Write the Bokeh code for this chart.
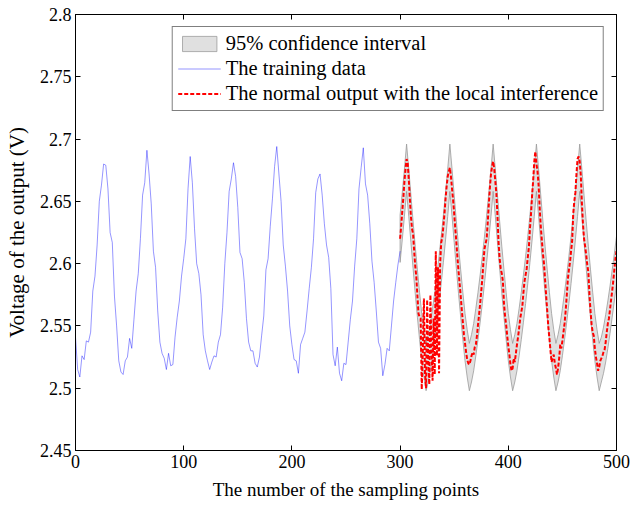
from bokeh.plotting import figure
from bokeh.models import LinearAxis, Range1d, FixedTicker, Legend, LegendItem, CustomJSTickFormatter
from bokeh.embed import file_html
from bokeh.resources import INLINE

# ---- data ----
train_x = list(range(0, 301, 2))
train_y = [
    2.541, 2.515, 2.509, 2.526, 2.523, 2.538, 2.537, 2.545, 2.578, 2.590,
    2.615, 2.650, 2.663, 2.680, 2.679, 2.660, 2.625, 2.617, 2.574, 2.550,
    2.522, 2.513, 2.511, 2.522, 2.525, 2.540, 2.532, 2.555, 2.578, 2.592,
    2.620, 2.655, 2.665, 2.691, 2.672, 2.648, 2.610, 2.597, 2.562, 2.537,
    2.528, 2.524, 2.515, 2.528, 2.518, 2.519, 2.541, 2.557, 2.570, 2.590,
    2.604, 2.620, 2.660, 2.686, 2.665, 2.628, 2.600, 2.592, 2.575, 2.543,
    2.530, 2.522, 2.515, 2.521, 2.526, 2.525, 2.537, 2.543, 2.565, 2.600,
    2.625, 2.658, 2.668, 2.681, 2.670, 2.645, 2.609, 2.604, 2.585, 2.556,
    2.537, 2.530, 2.530, 2.520, 2.517, 2.525, 2.542, 2.558, 2.595, 2.604,
    2.630, 2.652, 2.678, 2.694, 2.672, 2.650, 2.615, 2.598, 2.578, 2.550,
    2.535, 2.523, 2.522, 2.512, 2.535, 2.540, 2.545, 2.562, 2.580, 2.597,
    2.620, 2.657, 2.668, 2.672, 2.655, 2.632, 2.615, 2.605, 2.580, 2.527,
    2.518, 2.533, 2.512, 2.506, 2.520, 2.519, 2.537, 2.555, 2.570, 2.598,
    2.620, 2.660, 2.677, 2.693, 2.664, 2.655, 2.632, 2.602, 2.585, 2.562,
    2.537, 2.532, 2.510, 2.519, 2.532, 2.530, 2.550, 2.570, 2.585, 2.599,
    2.610,
]

test_x = list(range(300, 501))
test_y = [
    2.620, 2.630, 2.642, 2.653, 2.666, 2.676, 2.684, 2.681, 2.668, 2.652,
    2.638, 2.628, 2.624, 2.610, 2.598, 2.589, 2.574, 2.560, 2.557, 2.556,
    2.499, 2.530, 2.572, 2.512, 2.500, 2.571, 2.522, 2.503, 2.575, 2.532,
    2.506, 2.556, 2.511, 2.610, 2.526, 2.597, 2.512, 2.600, 2.617, 2.621,
    2.630, 2.640, 2.652, 2.662, 2.670, 2.674, 2.677, 2.670, 2.660, 2.651,
    2.640, 2.628, 2.617, 2.605, 2.594, 2.584, 2.574, 2.563, 2.553, 2.543,
    2.536, 2.529, 2.523, 2.520, 2.519, 2.522, 2.526, 2.529, 2.527, 2.533,
    2.535, 2.542, 2.551, 2.559, 2.568, 2.578, 2.588, 2.601, 2.612, 2.616,
    2.620, 2.633, 2.648, 2.661, 2.672, 2.678, 2.682, 2.676, 2.666, 2.656,
    2.638, 2.617, 2.604, 2.596, 2.592, 2.586, 2.568, 2.558, 2.551, 2.542,
    2.534, 2.527, 2.519, 2.514, 2.516, 2.524, 2.521, 2.528, 2.535, 2.541,
    2.548, 2.556, 2.561, 2.566, 2.577, 2.586, 2.591, 2.596, 2.605, 2.613,
    2.628, 2.640, 2.655, 2.667, 2.682, 2.690, 2.680, 2.674, 2.663, 2.645,
    2.630, 2.619, 2.608, 2.600, 2.587, 2.574, 2.562, 2.549, 2.540, 2.530,
    2.521, 2.524, 2.527, 2.520, 2.516, 2.511, 2.516, 2.524, 2.535, 2.532,
    2.538, 2.545, 2.552, 2.562, 2.574, 2.587, 2.595, 2.601, 2.610, 2.618,
    2.640, 2.650, 2.657, 2.672, 2.684, 2.686, 2.682, 2.671, 2.649, 2.632,
    2.620, 2.614, 2.607, 2.599, 2.593, 2.575, 2.562, 2.551, 2.545, 2.542,
    2.532, 2.525, 2.520, 2.514, 2.517, 2.522, 2.524, 2.526, 2.529, 2.531,
    2.537, 2.545, 2.552, 2.556, 2.563, 2.571, 2.578, 2.586, 2.595, 2.604,
    2.610,
]

band_x = list(range(300, 501, 2))
band_upper = [
    2.639, 2.657, 2.676,
    2.696, 2.676, 2.655, 2.634, 2.614, 2.595, 2.577, 2.560, 2.547, 2.536,
    2.543, 2.552, 2.564, 2.577, 2.591, 2.606, 2.622, 2.639, 2.657, 2.676,
    2.696, 2.676, 2.655, 2.634, 2.614, 2.595, 2.577, 2.560, 2.547, 2.536,
    2.543, 2.552, 2.564, 2.577, 2.591, 2.606, 2.622, 2.639, 2.657, 2.676,
    2.696, 2.676, 2.655, 2.634, 2.614, 2.595, 2.577, 2.560, 2.547, 2.536,
    2.543, 2.552, 2.564, 2.577, 2.591, 2.606, 2.622, 2.639, 2.657, 2.676,
    2.696, 2.676, 2.655, 2.634, 2.614, 2.595, 2.577, 2.560, 2.547, 2.536,
    2.543, 2.552, 2.564, 2.577, 2.591, 2.606, 2.622, 2.639, 2.657, 2.676,
    2.696, 2.676, 2.655, 2.634, 2.614, 2.595, 2.577, 2.560, 2.547, 2.536,
    2.541, 2.549, 2.559, 2.570, 2.582, 2.595, 2.608, 2.622,
]
band_lower = [
    2.601, 2.619, 2.638,
    2.658, 2.638, 2.617, 2.596, 2.576, 2.557, 2.539, 2.522, 2.509, 2.498,
    2.505, 2.514, 2.526, 2.539, 2.553, 2.568, 2.584, 2.601, 2.619, 2.638,
    2.658, 2.638, 2.617, 2.596, 2.576, 2.557, 2.539, 2.522, 2.509, 2.498,
    2.505, 2.514, 2.526, 2.539, 2.553, 2.568, 2.584, 2.601, 2.619, 2.638,
    2.658, 2.638, 2.617, 2.596, 2.576, 2.557, 2.539, 2.522, 2.509, 2.498,
    2.505, 2.514, 2.526, 2.539, 2.553, 2.568, 2.584, 2.601, 2.619, 2.638,
    2.658, 2.638, 2.617, 2.596, 2.576, 2.557, 2.539, 2.522, 2.509, 2.498,
    2.505, 2.514, 2.526, 2.539, 2.553, 2.568, 2.584, 2.601, 2.619, 2.638,
    2.658, 2.638, 2.617, 2.596, 2.576, 2.557, 2.539, 2.522, 2.509, 2.498,
    2.505, 2.512, 2.521, 2.532, 2.544, 2.557, 2.570, 2.584,
]

x_ticks = [0, 100, 200, 300, 400, 500]
y_ticks = [2.45, 2.5, 2.55, 2.6, 2.65, 2.7, 2.75, 2.8]
y_tick_labels = {2.45: "2.45", 2.5: "2.5", 2.55: "2.55", 2.6: "2.6",
                 2.65: "2.65", 2.7: "2.7", 2.75: "2.75", 2.8: "2.8"}

FONT = "Liberation Serif"

p = figure(width=633, height=506, output_backend="svg", toolbar_location=None,
           x_range=Range1d(0, 500), y_range=Range1d(2.45, 2.8),
           min_border_left=75, min_border_right=17, min_border_top=14,
           min_border_bottom=56, background_fill_color="white",
           border_fill_color="white")
p.xgrid.visible = False
p.ygrid.visible = False
p.outline_line_color = "black"
p.outline_line_width = 1

# confidence band as a closed patch
patch_x = band_x + band_x[::-1]
patch_y = band_upper + band_lower[::-1]
r_band = p.patch(patch_x, patch_y, fill_color="#e0e0e0", line_color="#9a9a9a",
                 line_width=0.8)
r_train = p.line(train_x, train_y, line_color="#0000ff", line_width=0.6, line_alpha=0.7)
r_test = p.line(test_x, test_y, line_color="#ff0000", line_width=2,
                line_dash="4 2")


def style_axis(ax, size="18px"):
    ax.major_tick_in = 5
    ax.major_tick_out = 0
    ax.minor_tick_line_color = None
    ax.axis_line_color = "black"
    ax.major_tick_line_color = "black"
    ax.major_label_text_font = FONT
    ax.major_label_text_font_size = size
    ax.major_label_text_color = "black"
    ax.axis_label_text_font = FONT
    ax.axis_label_text_font_style = "normal"
    ax.axis_label_text_color = "black"


xa = p.xaxis[0]
style_axis(xa)
xa.ticker = FixedTicker(ticks=x_ticks)
xa.axis_label = "The number of the sampling points"
xa.axis_label_text_font_size = "19px"
xa.major_label_standoff = 4
xa.axis_label_standoff = 8

ya = p.yaxis[0]
style_axis(ya)
ya.ticker = FixedTicker(ticks=y_ticks)
ya.major_label_overrides = y_tick_labels
ya.axis_label = "Voltage of the output (V)"
ya.axis_label_text_font_size = "21px"
ya.major_label_standoff = 4
ya.axis_label_standoff = 8

blank = CustomJSTickFormatter(code="return '';")

top = LinearAxis(formatter=blank)
style_axis(top, size="1px")
top.ticker = FixedTicker(ticks=x_ticks)
top.major_label_standoff = 0
p.add_layout(top, "above")

right = LinearAxis(formatter=blank)
style_axis(right, size="1px")
right.ticker = FixedTicker(ticks=y_ticks)
right.major_label_standoff = 0
p.add_layout(right, "right")

legend = Legend(items=[
    LegendItem(label="95% confidence interval", renderers=[r_band]),
    LegendItem(label="The training data", renderers=[r_train]),
    LegendItem(label="The normal output with the local interference", renderers=[r_test]),
], location="top_right")
legend.label_text_font = FONT
legend.label_text_font_size = "20.5px"
legend.label_text_color = "black"
legend.label_height = 22
legend.glyph_width = 43
legend.glyph_height = 19
legend.label_standoff = 5
legend.spacing = 2
legend.padding = 5
legend.margin = 12
legend.border_line_color = "black"
legend.border_line_width = 1
legend.background_fill_color = "white"
legend.background_fill_alpha = 1
p.add_layout(legend, "center")

open("out.html", "w").write(file_html(p, INLINE))
